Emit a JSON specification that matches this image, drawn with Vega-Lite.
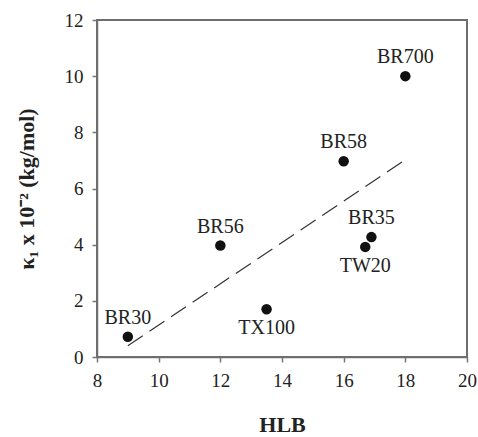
{
  "$schema": "https://vega.github.io/schema/vega-lite/v6.json",
  "width": 370,
  "height": 337,
  "autosize": {"type": "none"},
  "padding": {"left": 97, "top": 20, "right": 11, "bottom": 80},
  "config": {
    "view": {"stroke": null},
    "font": "Liberation Serif",
    "axis": {
      "grid": false,
      "domainColor": "#777",
      "domainWidth": 1.5,
      "tickColor": "#777",
      "tickWidth": 1.5,
      "tickSize": 5,
      "labelFont": "Liberation Serif",
      "labelFontSize": 19,
      "labelColor": "#222",
      "labelFlush": false,
      "titleFont": "Liberation Serif",
      "titleFontSize": 22,
      "titleFontWeight": "bold",
      "titleColor": "#222"
    }
  },
  "datasets": {
    "points": [
      {"name": "BR30", "hlb": 9.0, "k": 0.72, "side": "above"},
      {"name": "BR56", "hlb": 12.0, "k": 3.97, "side": "above"},
      {"name": "TX100", "hlb": 13.5, "k": 1.7, "side": "below"},
      {"name": "BR58", "hlb": 16.0, "k": 6.97, "side": "above"},
      {"name": "TW20", "hlb": 16.7, "k": 3.92, "side": "below"},
      {"name": "BR35", "hlb": 16.9, "k": 4.27, "side": "above"},
      {"name": "BR700", "hlb": 18.0, "k": 10.0, "side": "above"}
    ],
    "fit": [
      {"hlb": 9.0, "k": 0.4},
      {"hlb": 18.0, "k": 7.02}
    ],
    "frame": [{"hlb": 8, "hlb2": 20, "k": 0, "k2": 12}]
  },
  "encoding": {
    "x": {
      "field": "hlb",
      "type": "quantitative",
      "scale": {"domain": [8, 20], "nice": false, "zero": false},
      "axis": {"title": "HLB", "values": [8, 10, 12, 14, 16, 18, 20], "labelPadding": 9, "titlePadding": 24}
    },
    "y": {
      "field": "k",
      "type": "quantitative",
      "scale": {"domain": [0, 12], "nice": false},
      "axis": {"title": "κ₁ x 10⁻² (kg/mol)", "values": [0, 2, 4, 6, 8, 10, 12], "labelPadding": 9, "titlePadding": 26}
    }
  },
  "layer": [
    {
      "data": {"name": "frame"},
      "mark": {"type": "rect", "fill": "transparent", "stroke": "#6e6e6e", "strokeWidth": 2},
      "encoding": {
        "x2": {"field": "hlb2"},
        "y2": {"field": "k2"}
      }
    },
    {
      "data": {"name": "fit"},
      "mark": {"type": "line", "strokeDash": [18, 8], "color": "#333", "strokeWidth": 1.2}
    },
    {
      "data": {"name": "points"},
      "mark": {"type": "point", "filled": true, "size": 110, "color": "#111", "opacity": 1}
    },
    {
      "data": {"name": "points"},
      "transform": [{"filter": "datum.side == 'above'"}],
      "mark": {"type": "text", "dy": -19, "fontSize": 20, "color": "#222", "font": "Liberation Serif"},
      "encoding": {"text": {"field": "name"}}
    },
    {
      "data": {"name": "points"},
      "transform": [{"filter": "datum.side == 'below'"}],
      "mark": {"type": "text", "dy": 19, "fontSize": 20, "color": "#222", "font": "Liberation Serif"},
      "encoding": {"text": {"field": "name"}}
    }
  ]
}
